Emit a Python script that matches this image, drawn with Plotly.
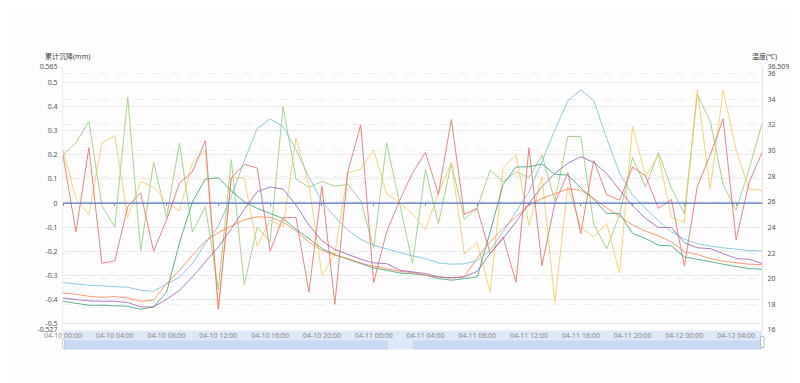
import pandas as pd
import plotly.graph_objects as go

# ---- data (hourly, 04-10 00:00 .. 04-12 06:00) ----
start_time = "2024-04-10 00:00"
n_points = 55
times = pd.date_range(start_time, periods=n_points, freq="h")

settle_blue = [0.0] * n_points
settle_green = [0.20, 0.25, 0.34, -0.01, -0.10, 0.44, -0.20, 0.17, -0.06, 0.25,
                -0.12, -0.015, -0.36, 0.18, -0.34, -0.10, -0.16, 0.40, 0.10, 0.065,
                0.09, 0.07, 0.078, 0.01, -0.187, 0.25, 0.0, -0.25, 0.14, -0.086,
                0.167, -0.068, -0.02, 0.137, 0.088, 0.13, 0.105, 0.20, 0.01, 0.276,
                0.277, -0.088, -0.19, -0.047, 0.19, 0.066, 0.21, 0.063, -0.044, 0.45,
                0.34, 0.077, -0.03, 0.14, 0.33]
settle_yellow = [0.22, 0.02, -0.05, 0.25, 0.28, -0.06, 0.09, 0.066, 0.005, -0.033,
                 0.167, 0.22, -0.44, 0.107, 0.105, -0.18, -0.07, -0.10, 0.27, 0.077,
                 -0.30, -0.21, 0.125, 0.14, 0.22, 0.038, 0.004, -0.045, -0.11, 0.04,
                 0.167, -0.21, -0.165, -0.37, 0.146, 0.20, -0.093, 0.11, -0.41, 0.07,
                 -0.10, -0.14, -0.084, -0.29, 0.32, 0.11, 0.20, -0.06, -0.08, 0.47,
                 0.058, 0.47, 0.22, 0.058, 0.052]
settle_red = [0.20, -0.12, 0.23, -0.25, -0.24, -0.015, 0.043, -0.20, -0.07, 0.084,
              0.13, 0.26, -0.44, 0.105, 0.16, 0.146, -0.20, -0.06, -0.06, -0.37,
              0.07, -0.42, 0.13, 0.325, -0.33, -0.12, 0.01, 0.125, 0.21, 0.036,
              0.347, -0.047, -0.022, -0.21, -0.14, -0.33, 0.23, -0.26, 0.0, 0.126,
              -0.127, 0.178, 0.035, 0.012, 0.15, 0.113, -0.022, 0.015, -0.262, 0.068,
              0.20, 0.35, -0.153, 0.085, 0.21]

temp_lightblue = [19.70, 19.57, 19.49, 19.44, 19.41, 19.33, 19.10, 19.02, 19.6, 20.1,
                  21.2, 22.75, 24.1, 26.4, 29.2, 31.7, 32.46, 31.86, 30.04, 27.95,
                  26.0, 24.83, 23.79, 23.08, 22.61, 22.30, 22.04, 21.78, 21.57, 21.23,
                  21.13, 21.16, 21.42, 22.22, 23.66, 25.22, 26.78, 29.13, 31.6, 33.86,
                  34.72, 33.9, 30.95, 28.21, 26.52, 25.48, 24.52, 23.66, 23.08, 22.74,
                  22.54, 22.41, 22.30, 22.2, 22.17]
temp_teal = [18.24, 18.11, 17.93, 17.93, 17.9, 17.85, 17.61, 17.8, 18.95, 22.8,
             26.0, 27.77, 27.88, 26.85, 26.0, 25.48, 25.09, 24.7, 23.85, 23.14,
             22.35, 21.89, 21.52, 21.18, 20.84, 20.66, 20.45, 20.38, 20.27, 20.01,
             19.88, 20.0, 20.14, 23.66, 27.35, 28.71, 28.73, 28.94, 28.14, 28.08,
             27.09, 26.2, 25.09, 25.09, 23.53, 23.14, 22.61, 22.56, 21.7, 21.52,
             21.31, 21.13, 20.95, 20.79, 20.74]
temp_orange = [18.89, 18.79, 18.63, 18.55, 18.6, 18.5, 18.24, 18.34, 19.62, 20.66,
               21.83, 22.93, 23.6, 24.13, 24.6, 24.83, 24.78, 24.44, 23.71, 22.88,
               22.22, 21.83, 21.57, 21.23, 20.97, 20.79, 20.58, 20.48, 20.27, 20.14,
               20.06, 20.15, 21.6, 22.88, 23.92, 24.83, 25.74, 26.26, 26.65, 27.0,
               26.9, 26.26, 25.53, 24.83, 24.18, 23.71, 23.34, 22.88, 22.1, 21.89,
               21.57, 21.36, 21.23, 21.13, 21.1]
temp_purple = [18.5, 18.37, 18.27, 18.24, 18.24, 18.14, 17.8, 17.8, 18.4, 19.1,
               20.14, 21.31, 22.48, 23.9, 25.4, 26.78, 27.15, 26.99, 25.74, 24.18,
               22.95, 22.28, 21.89, 21.52, 21.23, 21.18, 20.66, 20.53, 20.4, 20.14,
               20.06, 20.14, 20.58, 21.96, 23.14, 24.44, 25.87, 27.17, 28.21, 29.0,
               29.52, 29.07, 28.21, 26.91, 25.69, 24.7, 23.99, 23.99, 22.82, 22.41,
               22.35, 21.96, 21.57, 21.52, 21.18]

left_min, left_max = -0.527, 0.565
left_ticks = [-0.527, -0.5, -0.4, -0.3, -0.2, -0.1, 0, 0.1, 0.2, 0.3, 0.4, 0.5, 0.565]
left_labels = ["-0.527", "-0.5", "-0.4", "-0.3", "-0.2", "-0.1", "0", "0.1", "0.2",
               "0.3", "0.4", "0.5", "0.565"]
right_min, right_max = 16, 36.509
right_ticks = [16, 18, 20, 22, 24, 26, 28, 30, 32, 34, 36, 36.509]
right_labels = ["16", "18", "20", "22", "24", "26", "28", "30", "32", "34", "36", "36.509"]
left_title = "累计沉降(mm)"
right_title = "温度(℃)"

FONT = "Noto Sans, Noto Sans CJK SC, sans-serif"
fig = go.Figure()

settle_series = [("沉降1", settle_green, "#91cc75"), ("沉降2", settle_yellow, "#fac858"),
                 ("沉降3", settle_red, "#ee6666")]
temp_series = [("温度1", temp_lightblue, "#73c0de"), ("温度2", temp_teal, "#3ba272"),
               ("温度3", temp_orange, "#fc8452"), ("温度4", temp_purple, "#9a60b4")]

for name, vals, col in temp_series:
    fig.add_trace(go.Scatter(x=times, y=vals, name=name, mode="lines", yaxis="y2",
                             line=dict(color=col, width=1), opacity=0.8))
for name, vals, col in settle_series:
    fig.add_trace(go.Scatter(x=times, y=vals, name=name, mode="lines", yaxis="y",
                             line=dict(color=col, width=1), opacity=0.8))
fig.add_trace(go.Scatter(x=times, y=settle_blue, name="沉降0", mode="lines",
                         xaxis="x2", yaxis="y", line=dict(color="#5470c6", width=1.2)))

zero_frac = (0 - left_min) / (left_max - left_min)
xr = [times[0], times[-1]]

# page has an 8px body margin: figure drawn from (8, 8)
OFF = 8
plot_left, plot_right = 63.0, 762.0
plot_top, plot_bot = 67.0, 330.5
H = plot_bot - plot_top
W = plot_right - plot_left
def py(pix):
    return (plot_bot - pix) / H
def px(pix):
    return (pix - plot_left) / W

shapes = [
    dict(type="rect", xref="paper", yref="paper", x0=0, x1=1, y0=py(350), y1=py(331),
         fillcolor="#dfe8f6", line=dict(width=0), layer="below"),
    dict(type="rect", xref="paper", yref="paper", x0=px(64), x1=px(388), y0=py(350), y1=py(341),
         fillcolor="#c9d9f2", line=dict(width=0), layer="below"),
    dict(type="rect", xref="paper", yref="paper", x0=px(413), x1=1, y0=py(350), y1=py(341),
         fillcolor="#c9d9f2", line=dict(width=0), layer="below"),
    dict(type="rect", xref="paper", yref="paper", x0=px(760.5), x1=px(764), y0=py(348), y1=py(337),
         fillcolor="#ffffff", line=dict(color="#aab4c4", width=0.8)),
    dict(type="rect", xref="paper", yref="paper", x0=px(62.5), x1=px(64.5), y0=py(348), y1=py(340),
         fillcolor="#ffffff", line=dict(color="#aab4c4", width=0.6)),
]

fig_w, fig_h = 800 - OFF, 383 - OFF
fig.update_layout(
    width=fig_w, height=fig_h,
    margin=dict(l=plot_left - OFF, r=800 - plot_right, t=plot_top - OFF, b=383 - plot_bot,
                autoexpand=False),
    paper_bgcolor="#fdfdfd", plot_bgcolor="rgba(0,0,0,0)",
    showlegend=False,
    font=dict(family=FONT, size=7, color="#6e7079"),
    xaxis=dict(type="date", range=xr, dtick=4 * 3600 * 1000, tick0=times[0],
               tickformat="%m-%d %H:%M", showgrid=False, zeroline=False, showline=False,
               ticks="", tickfont=dict(size=7, color="#8a8a8a"), ticklabelstandoff=0,
               automargin=False),
    xaxis2=dict(type="date", matches="x", overlaying="x", anchor="free", position=zero_frac,
                dtick=4 * 3600 * 1000, tick0=times[0], showticklabels=False,
                ticks="outside", ticklen=2, tickwidth=0.8, tickcolor="#8a8fa0",
                showgrid=False, zeroline=False, showline=False, automargin=False),
    yaxis=dict(range=[left_min, left_max], tickmode="array", tickvals=left_ticks,
               ticktext=left_labels, showgrid=True, gridcolor="#ebebeb", gridwidth=1,
               zeroline=False, showline=True, linecolor="#ececec", linewidth=1,
               ticks="", tickfont=dict(size=7, color="#555"), ticklabelstandoff=3,
               automargin=False),
    yaxis2=dict(range=[right_min, right_max], overlaying="y", side="right", tickmode="array",
                tickvals=right_ticks, ticktext=right_labels, showgrid=True,
                gridcolor="#eeeeee", griddash="dash", gridwidth=1, zeroline=False,
                showline=True, linecolor="#e6e6e6", linewidth=1, ticks="",
                tickfont=dict(size=7, color="#555"), ticklabelstandoff=3,
                automargin=False),
    shapes=shapes,
    annotations=[
        dict(text=left_title, xref="paper", yref="paper", x=px(43), y=py(56),
             xanchor="left", yanchor="middle", showarrow=False,
             font=dict(size=7, color="#444", family=FONT)),
        dict(text=right_title, xref="paper", yref="paper", x=px(750), y=py(56),
             xanchor="left", yanchor="middle", showarrow=False,
             font=dict(size=7, color="#444", family=FONT)),
    ],
)

fig.write_html("out.html")
